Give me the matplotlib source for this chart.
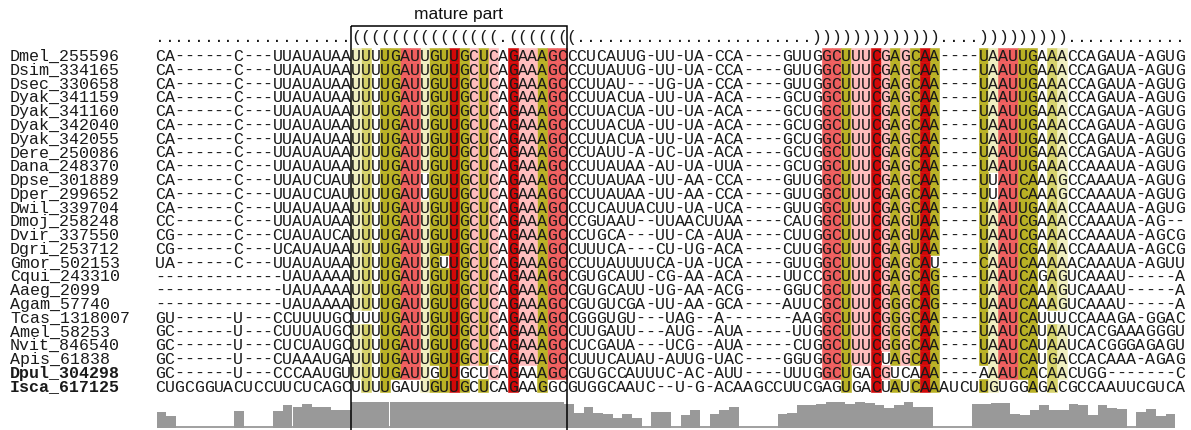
import matplotlib
matplotlib.use("Agg")
import numpy as np
import matplotlib.pyplot as plt
from matplotlib.patches import Rectangle

# ---- alignment data ----
names = ["Dmel_255596", "Dsim_334165", "Dsec_330658", "Dyak_341159", "Dyak_341160",
         "Dyak_342040", "Dyak_342055", "Dere_250086", "Dana_248370", "Dpse_301889",
         "Dper_299652", "Dwil_339704", "Dmoj_258248", "Dvir_337550", "Dgri_253712",
         "Gmor_502153", "Cqui_243310", "Aaeg_2099", "Agam_57740", "Tcas_1318007",
         "Amel_58253", "Nvit_846540", "Apis_61838", "Dpul_304298", "Isca_617125"]
bold_names = ["Dpul_304298", "Isca_617125"]

seqs = [
    "CA------C---UUAUAUAA" "UUUUGAUUGUUGCUCAGAAAGC" "CCUCAUUG-UU-UA-CCA----GUUG" "GCUUUCGAGCAA" "----UAAUUGAAACCAGAUA-AGUG",
    "CA------C---UUAUAUAA" "UUUUGAUUGUUGCUCAGAAAGC" "CCUUAUUG-UU-UA-CCA----GUUG" "GCUUUCGAGCAA" "----UAAUUGAAACCAGAUA-AGUG",
    "CA------C---UUAUAUAA" "UUUUGAUUGUUGCUCAGAAAGC" "CCUUAU---UG-UA-CCA----GUUG" "GCUUUCGAGCAA" "----UAAUUGAAACCAGAUA-AGUG",
    "CA------C---UUAUAUAA" "UUUUGAUUGUUGCUCAGAAAGC" "CCUUACUA-UU-UA-ACA----GCUG" "GCUUUCGAGCAA" "----UAAUUGAAACCAGAUA-AGUG",
    "CA------C---UUAUAUAA" "UUUUGAUUGUUGCUCAGAAAGC" "CCUUACUA-UU-UA-ACA----GCUG" "GCUUUCGAGCAA" "----UAAUUGAAACCAGAUA-AGUG",
    "CA------C---UUAUAUAA" "UUUUGAUUGUUGCUCAGAAAGC" "CCUUACUA-UU-UA-ACA----GCUG" "GCUUUCGAGCAA" "----UAAUUGAAACCAGAUA-AGUG",
    "CA------C---UUAUAUAA" "UUUUGAUUGUUGCUCAGAAAGC" "CCUUACUA-UU-UA-ACA----GCUG" "GCUUUCGAGCAA" "----UAAUUGAAACCAGAUA-AGUG",
    "CA------C---UUAUAUAA" "UUUUGAUUGUUGCUCAGAAAGC" "CCUAUU-A-UC-UA-ACA----GCUG" "GCUUUCGAGCAA" "----UAAUUGAAACCAGAUA-AGUG",
    "CA------C---UUAUAUAA" "UUUUGAUUGUUGCUCAGAAAGC" "CCUUAUAA-AU-UA-UUA----GCUG" "GCUUUCGAGCAA" "----UAAUUGAAACCAAAUA-AGUG",
    "CA------C---UUAUCUAU" "UUUUGAUUGUUGCUCAGAAAGC" "CCUUAUAA-UU-AA-CCA----GUUG" "GCUUUCGAGCAA" "----UUAUCAAAGCCAAAUA-AGUG",
    "CA------C---UUAUCUAU" "UUUUGAUUGUUGCUCAGAAAGC" "CCUUAUAA-UU-AA-CCA----GUUG" "GCUUUCGAGCAA" "----UUAUCAAAGCCAAAUA-AGUG",
    "CA------C---UUAUAUAA" "UUUUGAUUGUUGCUCAGAAAGC" "CCUCAUUACUU-UA-UCA----GUUG" "GCUUUCGAGCAA" "----UAAUUGAAACCAAAUA-AGUG",
    "CC------C---UUAUAUAA" "UUUUGAUUGUUGCUCAGAAAGC" "CCGUAAU--UUAACUUAA----CAUG" "GCUUUCGAGUAA" "----UAAUCGAAACCAAAUA-AG--",
    "CG------C---CUAUAUCA" "UUUUGAUUGUUGCUCAGAAAGC" "CCUGCA---UU-CA-AUA----CUUG" "GCUUUCGAGUAA" "----UAAUCGAAACCAAAUA-AGCG",
    "CG------C---UCAUAUAA" "UUUUGAUUGUUGCUCAGAAAGC" "CUUUCA---CU-UG-ACA----CUUG" "GCUUUCGAGUAA" "----UAAUCGAAACCAAAUA-AGCG",
    "UA------C---UUAUAUAA" "UUUUGAUUGUUGCUCAGAAAGC" "CCUUAUUUUCA-UA-UCA----GUUG" "GCUUUCGAGCAU" "----CAAUCAAAAACAAAUA-AGUU",
    "-------------UAUAAAA" "UUUUGAUUGUUGCUCAGAAAGC" "CGUGCAUU-CG-AA-ACA----UUCC" "GCUUUCGAGCAG" "----UAAUCAGAGUCAAAU-----A",
    "-------------UAUAAAA" "UUUUGAUUGUUGCUCAGAAAGC" "CGUGCAUU-UG-AA-ACG----GGUC" "GCUUUCGAGCAG" "----UAAUCAAAGUCAAAU-----A",
    "-------------UAUAAAA" "UUUUGAUUGUUGCUCAGAAAGC" "CGUGUCGA-UU-AA-GCA----AUUC" "GCUUUCGGGCAG" "----UAAUCAAAGUCAAAU-----A",
    "GU------U---CCUUUUGC" "UUUUGAUUGUUGCUCAGAAAGC" "CGGGUGU---UAG--A-------AAG" "GCUUUCGGGCAA" "----UAAUCAUUUCCAAAGA-GGAC",
    "GC------U---CUUUAUGC" "UUUUGAUUGUUGCUCAGAAAGC" "CUUGAUU---AUG--AUA-----UUG" "GCUUUCGGGCAA" "----UAAUCAUAAUCACGAAAGGGU",
    "GC------U---CUCUAUGC" "UUUUGAUUGUUGCUCAGAAAGC" "CUCGAUA---UCG--AUA-----CUG" "GCUUUCGGGCAA" "----UAAUCAUAAUCACGGGAGAGU",
    "GC------U---CUAAAUGA" "UUUUGAUUGUUGCUCAGAAAGC" "CUUUCAUAU-AUUG-UAC----GGUG" "GCUUUCUAGCAA" "----UAAUCAUGACCACAAA-AGAG",
    "GC------U---CCCAAUGU" "UUUUGAUUGUUGCUCAGAAAGC" "CGUGCCAUUUC-AC-AUU----UUUG" "GCUGACGUCAAA" "----AAAUCACAACUGG-------C",
    "CUGCGGUACUCCUUCUCAGC" "UUUUGAUUGUUGCUCAGAAGGC" "GUGGCAAUC--U-G-ACAAGCCUUCG" "AGUGACUAUCAA" "AUCUUGUGGAGACGCCAAUUCGUCA",
]

structure = ("...................." "(((((((((((((((" "." "(((((((" "........................"
             ")))))))))))))" "...." ")))))))))" "............")

# column conservation (bar heights, max 25.7)
conservation = [15.7, 11.7, 0, 0, 0, 0, 0, 0, 16.7, 0, 0, 0, 16.7, 22.3, 20.7, 23.3, 20.7, 20.7, 18.0, 18.0] \
    + [25.7] * 22 \
    + [24.0, 15.0, 20.7, 15.0, 14.0, 10.0, 13.3, 10.0, 0, 15.7,
       15.7, 0, 12.3, 17.3, 0, 14.0, 17.3, 20.7, 0, 0,
       0, 0, 14.0, 15.0, 22.3, 22.3, 24.0, 25.7, 25.7, 24.0,
       25.7, 25.0, 23.0, 19.7, 23.0, 25.7, 20.7, 20.7, 0, 0,
       0, 0, 24.0, 24.0, 25.0, 25.0, 14.0, 12.3, 17.3, 23.0,
       17.3, 17.3, 24.0, 23.0, 12.3, 22.3, 19.7, 19.0, 0, 15.7,
       18.3, 11.7, 14.0]

# colour class of each base pair, keyed by its opening column
pair_class = {20: "pale", 21: "yellow", 23: "olive", 24: "olive", 25: "red", 26: "red",
              27: "pale", 28: "olive", 29: "olive", 30: "darkred", 31: "olive", 32: "pink",
              33: "olive", 34: "pink", 36: "darkred", 37: "pink", 38: "pink", 39: "olive",
              40: "red", 41: "red"}
palette = {"darkred": "#d20808", "red": "#ef5e5e", "pink": "#ffbdbd",
           "olive": "#b9b124", "yellow": "#d6d26a", "pale": "#f0efc0"}
valid = {"AU", "UA", "GC", "CG", "GU", "UG"}

# ---- layout (canvas pixels) ----
W, H = 1191, 431
X0, CW = 154.9, 9.806     # left edge of column 0, column width
Y0, RH = 49.1, 13.77      # top of first row, row height

fig = plt.figure(figsize=(W / 100, H / 100), dpi=100)
ax = fig.add_axes([0, 0, 1, 1])
ax.set_xlim(-X0 / CW, (W - X0) / CW)
ax.set_ylim((H - Y0) / RH, -Y0 / RH)
ax.axis("off")
ax.set_zorder(2)

mono = "Liberation Mono"
fs = 12
txt_col = "#1a1a1a"

# base pairs from the dot-bracket line
stack, pairs = [], []
for i, ch in enumerate(structure):
    if ch == "(":
        stack.append(i)
    elif ch == ")":
        pairs.append((stack.pop(), i))

# highlighted cells
for r, s in enumerate(seqs):
    for i, j in pairs:
        cls = pair_class.get(i)
        if cls is None or s[i] + s[j] not in valid:
            continue
        for c in (i, j):
            ax.add_patch(Rectangle((c, r), 1, 1, facecolor=palette[cls],
                                   edgecolor=palette[cls], lw=0.4, zorder=1))

# sequences and names
for r, (name, s) in enumerate(zip(names, seqs)):
    ax.text((10 - X0) / CW, r + 0.87, name, ha="left", va="baseline",
            family=mono, fontsize=fs, color=txt_col,
            fontweight="bold" if name in bold_names else "normal")
    for c, ch in enumerate(s):
        ax.text(c + 0.5, r + 0.87, ch, ha="center", va="baseline",
                family=mono, fontsize=fs, color=txt_col, zorder=3)

# secondary structure line
for c, ch in enumerate(structure):
    ax.text(c + 0.5, -0.55, ch, ha="center", va="baseline",
            family=mono, fontsize=fs, color=txt_col, zorder=3)

# mature part box
m0 = structure.index("(")
m1 = m0 + len("UUUUGAUUGUUGCUCAGAAAGC")
box_top = (26.7 - Y0) / RH
ax.add_patch(Rectangle((m0, box_top), m1 - m0, (H - Y0) / RH - box_top + 1,
                       facecolor="none", edgecolor="black", lw=1.1, zorder=4))
ax.text((m0 + m1) / 2, (14 - Y0) / RH, "mature part", ha="center", va="center",
        family="Liberation Sans", fontsize=12.5, color="#111111")

# conservation bars
n = len(conservation)
bx = fig.add_axes([156.7 / W, (H - 428.5) / H, n * 9.70 / W, 27.0 / H])
bx.set_zorder(1)
bx.bar(np.arange(n) + 0.5, conservation, width=1.0, color="#999999", lw=0)
bx.axhline(0.5, color="#999999", lw=1.3)
bx.set_xlim(0, n)
bx.set_ylim(0, 27.0)
bx.axis("off")

fig.savefig("out.png", dpi=100)
